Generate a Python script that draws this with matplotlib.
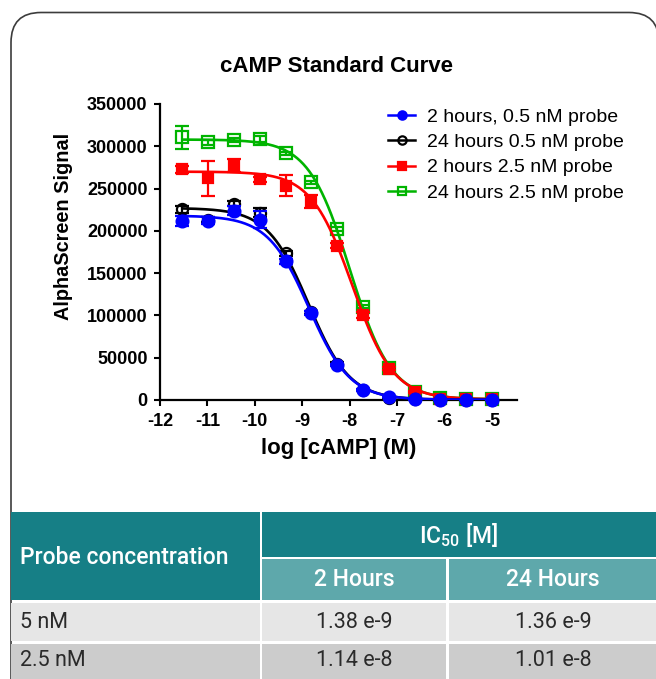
import matplotlib
matplotlib.use("Agg")
import matplotlib.pyplot as plt
import numpy as np
from matplotlib.patches import FancyBboxPatch, Rectangle
from matplotlib.transforms import Affine2D
from matplotlib.lines import Line2D

# ---------------- data ----------------
log_camp = [-11.53, -10.98, -10.44, -9.90, -9.35, -8.81, -8.26, -7.72, -7.18, -6.63, -6.09, -5.54, -5.00]

blue_2h_05 = [212000, 212000, 224000, 213000, 164000, 103000, 41500, 12000, 3500, 800, 300, 200, 200]
blue_2h_05_err = [6000, 4000, 5000, 10000, 3000, 2000, 1500, 1000, 500, 300, 200, 200, 200]

black_24h_05 = [225500, 213000, 232000, 221500, 173500, 103500, 43000, 12000, 2500, 700, 300, 200, 200]
black_24h_05_err = [4000, 3000, 3000, 5000, 3000, 2000, 1500, 1000, 500, 300, 200, 200, 200]

red_2h_25 = [273000, 262000, 277000, 261000, 253500, 234500, 182500, 100500, 37000, 9500, 1500, 1000, 1000]
red_2h_25_err = [4000, 21000, 7500, 3000, 12000, 8000, 3000, 3000, 2000, 1000, 500, 300, 300]

green_24h_25 = [310500, 305000, 307500, 308500, 291500, 257500, 202000, 110500, 38000, 10000, 2500, 1000, 1000]
green_24h_25_err = [14000, 3000, 2000, 4000, 2000, 2000, 2000, 2000, 1500, 1000, 500, 300, 300]

# four-parameter logistic fit parameters: top, bottom, logIC50, hill
fit_top = [218000, 227000, 270000, 308000]
fit_bottom = [300, 300, 800, 800]
fit_logic50 = [-8.860, -8.866, -7.943, -7.996]
fit_hill = [1.0, 1.0, 1.0, 1.0]

series_labels = ["2 hours, 0.5 nM probe", "24 hours 0.5 nM probe",
                 "2 hours 2.5 nM probe", "24 hours 2.5 nM probe"]

x_ticks = [-12, -11, -10, -9, -8, -7, -6, -5]
y_ticks = [0, 50000, 100000, 150000, 200000, 250000, 300000, 350000]

table_probe = ["5 nM", "2.5 nM"]
table_ic50_2h = ["1.38 e-9", "1.14 e-8"]
table_ic50_24h = ["1.36 e-9", "1.01 e-8"]

# ---------------- figure ----------------
plt.rcParams["font.family"] = ["Liberation Sans", "DejaVu Sans"]
plt.rcParams["axes.unicode_minus"] = False

W, H = 656, 679
fig = plt.figure(figsize=(W / 100, H / 100), dpi=100)
fig.patch.set_facecolor("white")
px = Affine2D().scale(1 / W, 1 / H) + fig.transFigure


def yb(y_top):
    return H - y_top


# card border
card = FancyBboxPatch((11, -40), 648, H - 12.5 + 40,
                      boxstyle="round,pad=0,rounding_size=30",
                      transform=px, fc="white", ec="#3c3c3c", lw=1.2, zorder=0)
fig.add_artist(card)

# ---------------- chart ----------------
ax = fig.add_axes([160 / W, 1 - 400 / H, 357 / W, 296 / H])
ax.patch.set_visible(False)

colors = ["#0000ff", "#000000", "#ff0000", "#00b400"]
markers = ["o", "o", "s", "s"]
mfcs = ["#0000ff", "none", "#ff0000", "none"]
data = [blue_2h_05, black_24h_05, red_2h_25, green_24h_25]
errs = [blue_2h_05_err, black_24h_05_err, red_2h_25_err, green_24h_25_err]
msizes = [8.5, 8.0, 7.5, 8.0]

xarr = np.array(log_camp)
xs = np.linspace(xarr.min(), xarr.max(), 400)
for i in [3, 2, 1, 0]:
    z = 2 + (3 - i) * 2
    curve = fit_bottom[i] + (fit_top[i] - fit_bottom[i]) / (1 + 10 ** ((xs - fit_logic50[i]) * fit_hill[i]))
    ax.plot(xs, curve, color=colors[i], lw=1.9, zorder=z)
    ax.errorbar(xarr, data[i], yerr=errs[i], fmt=markers[i], color=colors[i],
                mfc=mfcs[i], mec=colors[i], mew=1.6, ms=msizes[i],
                capsize=5, elinewidth=1.6, capthick=1.6, zorder=z + 1, clip_on=False)

ax.set_xlim(-12, -4.47)
ax.set_ylim(0, 350000)
ax.set_xticks(x_ticks)
ax.set_xticklabels([str(t) for t in x_ticks], fontsize=13, fontweight="bold")
ax.set_yticks(y_ticks)
ax.set_yticklabels([str(t) for t in y_ticks], fontsize=13, fontweight="bold")
for s in ["top", "right"]:
    ax.spines[s].set_visible(False)
for s in ["left", "bottom"]:
    ax.spines[s].set_linewidth(1.6)
ax.tick_params(axis="both", direction="out", length=4, width=1.5, pad=5, colors="black")

ax.set_xlabel("log [cAMP] (M)", fontsize=16, fontweight="bold", va="center")
ax.xaxis.set_label_coords(0.5, -0.165)
ax.set_ylabel("AlphaScreen Signal", fontsize=14.3, fontweight="bold", va="center")
ax.yaxis.set_label_coords(-0.27, 0.586)

fig.text(337 / W, 1 - 66 / H, "cAMP Standard Curve", fontsize=16, fontweight="bold",
         ha="center", va="center")

handles = [Line2D([0], [0], color=colors[i], marker=markers[i], mfc=mfcs[i], mec=colors[i],
                  mew=1.6, ms=6, lw=1.8) for i in range(4)]
ax.legend(handles, series_labels, loc="upper left", bbox_to_anchor=(388 / W, 1 - 108 / H),
          bbox_transform=fig.transFigure, frameon=False, fontsize=14,
          handlelength=1.4, handletextpad=0.62, labelspacing=0.4, borderpad=0,
          borderaxespad=0)

# ---------------- table ----------------
dark_teal = "#167f86"
light_teal = "#5ea8ab"
row_colors = ["#e6e6e6", "#cccccc"]
tfont = ["Roboto", "DejaVu Sans"]


def cell(x0, x1, y0, y1, color):
    fig.add_artist(Rectangle((x0, yb(y1)), x1 - x0, y1 - y0, transform=px,
                             fc=color, ec="none", zorder=1))


cell(11, 260, 512, 600, dark_teal)
cell(262, 660, 512, 557, dark_teal)
cell(262, 446, 559, 600, light_teal)
cell(449, 660, 559, 600, light_teal)
row_tops = [603, 644]
row_bots = [641, 690]
for r in range(2):
    cell(11, 260, row_tops[r], row_bots[r], row_colors[r])
    cell(262, 446, row_tops[r], row_bots[r], row_colors[r])
    cell(449, 660, row_tops[r], row_bots[r], row_colors[r])

fig.text(20 / W, yb(557) / H, "Probe concentration", color="white", fontsize=16.5,
         fontweight="medium", family=tfont, ha="left", va="center")
fig.text(459 / W, yb(535) / H, r"IC$_\mathregular{50}$ [M]", color="white", fontsize=16.5,
         fontweight="medium", family=tfont, ha="center", va="center")
fig.text(354 / W, yb(580) / H, "2 Hours", color="white", fontsize=16.5,
         fontweight="medium", family=tfont, ha="center", va="center")
fig.text(553 / W, yb(580) / H, "24 Hours", color="white", fontsize=16.5,
         fontweight="medium", family=tfont, ha="center", va="center")
row_centers = [622, 661]
for r in range(2):
    yc = yb(row_centers[r]) / H
    fig.text(20 / W, yc, table_probe[r], color="#2a2a2a", fontsize=15.5, family=tfont,
             fontweight="normal", ha="left", va="center")
    fig.text(354 / W, yc, table_ic50_2h[r], color="#2a2a2a", fontsize=15.5, family=tfont,
             fontweight="normal", ha="center", va="center")
    fig.text(553 / W, yc, table_ic50_24h[r], color="#2a2a2a", fontsize=15.5, family=tfont,
             fontweight="normal", ha="center", va="center")

fig.savefig("out.png", dpi=100)
